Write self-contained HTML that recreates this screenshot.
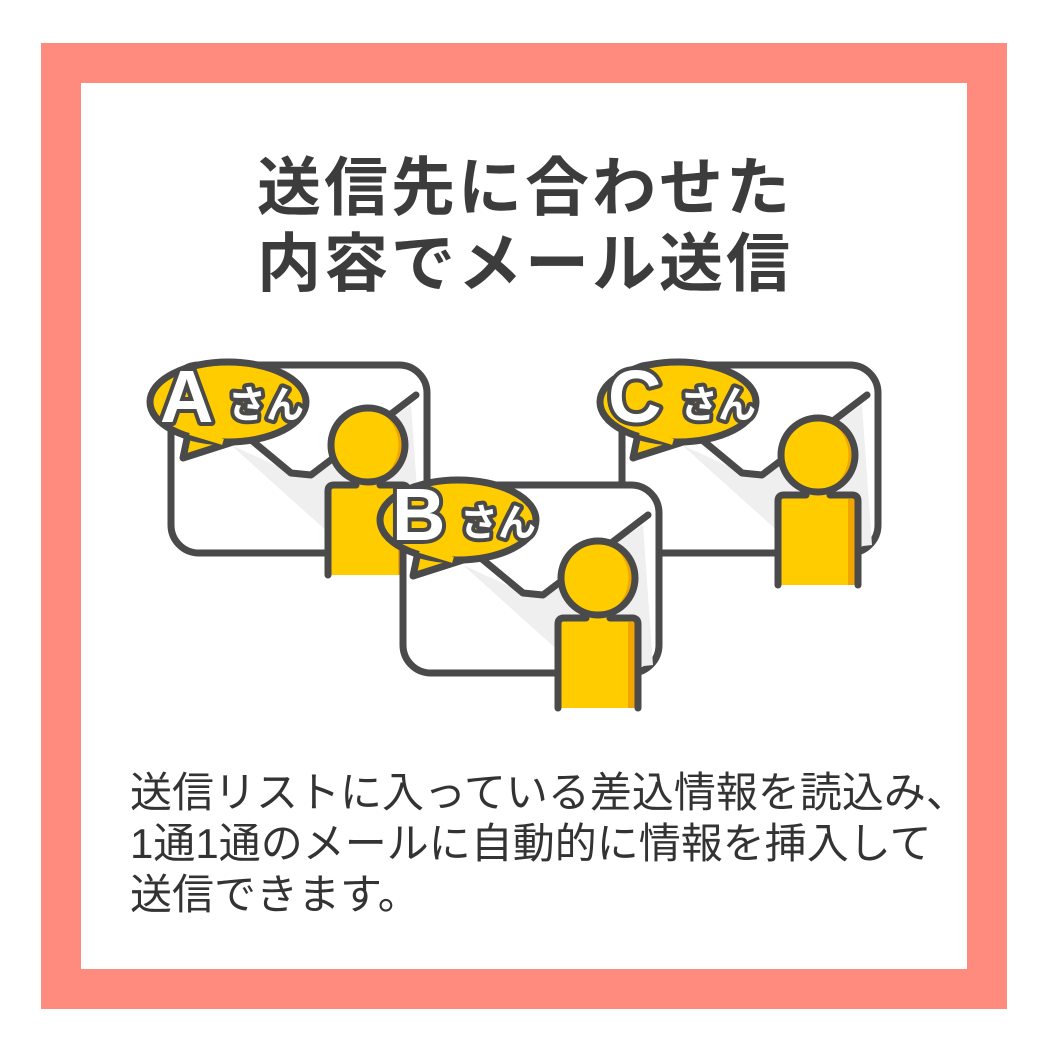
<!DOCTYPE html>
<html><head><meta charset="utf-8"><style>
body{margin:0;width:1050px;height:1050px;background:#fff;position:relative;font-family:"Liberation Sans","Noto Sans CJK JP",sans-serif}
.frame{position:absolute;left:41px;top:43px;width:966px;height:966px;background:#ff8a7e}
.inner{position:absolute;left:81px;top:83px;width:886px;height:886px;background:#fff}
.title{position:absolute;left:0;width:1050px;text-align:center;top:150px;font-size:64px;font-weight:bold;color:#3c3c3c;line-height:76px;letter-spacing:3px}
.body{position:absolute;left:130px;top:767px;font-size:42px;color:#333;line-height:51px;white-space:nowrap}
svg{position:absolute;left:0;top:0}
</style></head><body>
<div class="frame"></div><div class="inner"></div>
<div class="title">送信先に合わせた<br>内容でメール送信</div>
<svg width="1050" height="1050" viewBox="0 0 1050 1050">
<defs>
<g id="env">
<rect x="0" y="0" width="256" height="188" rx="28" fill="#fff" stroke="#4a4a4a" stroke-width="7"/>
<polygon points="60,80 130,112 240,40 250,180 180,188" fill="#efefef"/>
<polyline points="20,25 120,108 140,110 245,30" fill="none" stroke="#4a4a4a" stroke-width="7" stroke-linejoin="round" stroke-linecap="round"/>
</g>
<g id="per">
<path d="M-40,44 Q-40,40 -34,40 L34,40 Q40,40 40,46 L40,130 L-40,130 Z" fill="#ffcc00"/>
<rect x="30" y="44" width="10" height="86" fill="#f0a500"/>
<path d="M-40,130 L-40,46 Q-40,40 -34,40 L-12,40 M12,40 L34,40 Q40,40 40,46 L40,130" fill="none" stroke="#4a4a4a" stroke-width="7" stroke-linecap="round"/>
<circle cx="0" cy="0" r="37" fill="#ffcc00"/>
<path d="M8,-36 A37,37 0 0 1 8,36 A40,40 0 0 0 8,-36Z" fill="#f0a500"/>
<circle cx="0" cy="0" r="37" fill="none" stroke="#4a4a4a" stroke-width="7"/>
</g>
<g id="bub">
<path d="M-40,32 L-45,56 L5,40 Z" fill="#ffcc00" stroke="#4a4a4a" stroke-width="7" stroke-linejoin="round"/>
<ellipse cx="0" cy="0" rx="78" ry="40" fill="#ffcc00" stroke="#4a4a4a" stroke-width="7"/>
<path d="M-38,30 L-5,40" stroke="#ffcc00" stroke-width="6"/>
</g>
</defs>
<use href="#env" x="171" y="365"/>
<use href="#bub" x="228" y="402"/>
<use href="#per" x="368" y="445"/>
<use href="#env" x="622" y="365"/>
<use href="#bub" x="678" y="402"/>
<use href="#per" x="818" y="455"/>
<use href="#env" x="403" y="485"/>
<use href="#bub" x="458" y="520"/>
<use href="#per" x="598" y="578"/>
<g font-family="Liberation Sans, Noto Sans CJK JP, sans-serif" font-weight="bold" fill="#fff" stroke="#4a4a4a" stroke-width="8" paint-order="stroke" stroke-linejoin="round">
<text x="160" y="422" font-size="74">A</text><text x="228" y="418" font-size="38">さん</text>
<text x="608" y="422" font-size="74">C</text><text x="680" y="418" font-size="38">さん</text>
<text x="392" y="540" font-size="74">B</text><text x="460" y="536" font-size="38">さん</text>
</g>
</svg>
<div class="body">送信リストに入っている差込情報を読込み、<br>1通1通のメールに自動的に情報を挿入して<br>送信できます。</div>
</body></html>
